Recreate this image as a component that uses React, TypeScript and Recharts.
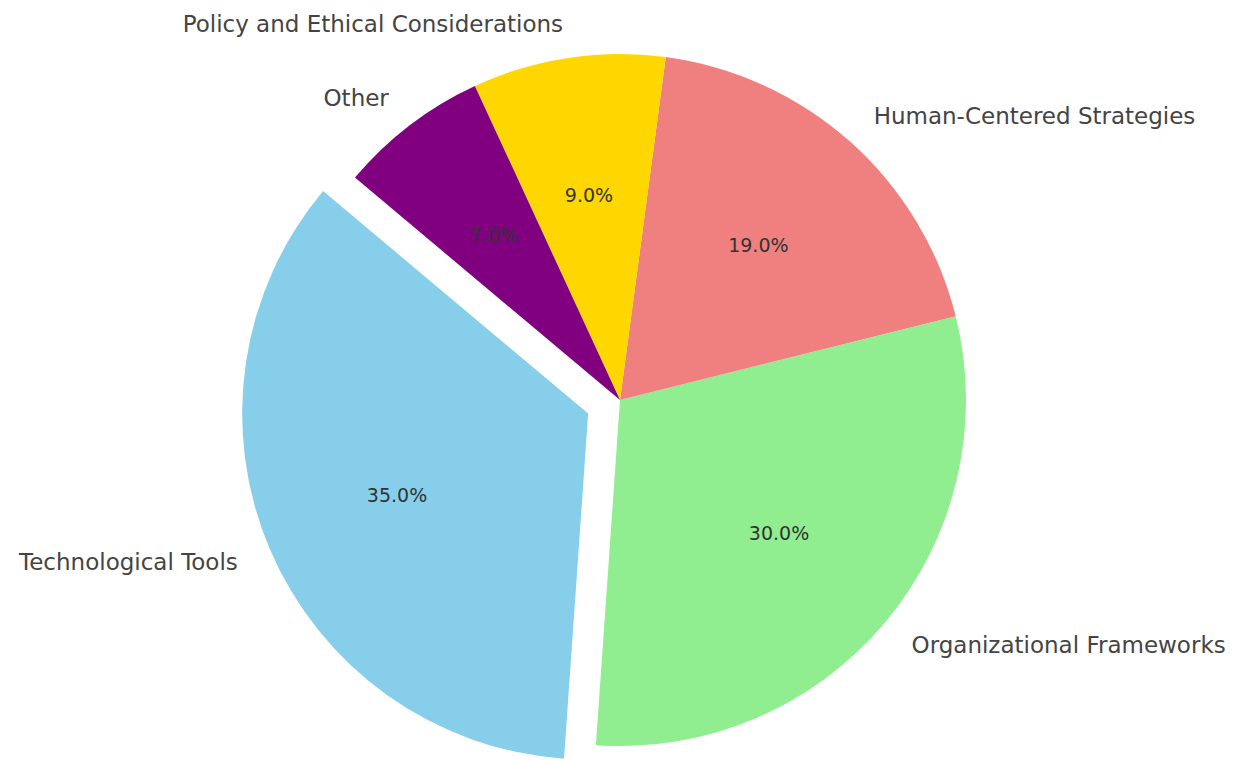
import React from 'react';
import { PieChart, Pie, Cell } from 'recharts';

// slice order follows the original (counter-clockwise from 140deg)
const categories = [
  'Technological Tools',
  'Organizational Frameworks',
  'Human-Centered Strategies',
  'Policy and Ethical Considerations',
  'Other',
];
const shares = [35, 30, 19, 9, 7];

const sliceColors = ['#87CEEB', '#90EE90', '#F08080', '#FFD700', '#800080'];

const START_ANGLE = 140;
const CX = 620;
const CY = 400;
const RADIUS = 346;
const EXPLODED = 0; // index of the pulled-out slice
const EXPLODE_FRAC = 0.1;
const RADIAN = Math.PI / 180;

const data = categories.map((name, i) => ({ name, value: shares[i] }));

const total = shares.reduce((a, b) => a + b, 0);
const before = shares.slice(0, EXPLODED).reduce((a, b) => a + b, 0);
const explodeMid = START_ANGLE + (360 * (before + shares[EXPLODED] / 2)) / total;
const offX = RADIUS * EXPLODE_FRAC * Math.cos(explodeMid * RADIAN);
const offY = -RADIUS * EXPLODE_FRAC * Math.sin(explodeMid * RADIAN);

const makeLabel = (showExploded: boolean) => (props: any) => {
  const { cx, cy, midAngle, outerRadius, percent, index, name } = props;
  if ((index === EXPLODED) !== showExploded) return null;
  const cos = Math.cos(-midAngle * RADIAN);
  const sin = Math.sin(-midAngle * RADIAN);
  const lx = cx + outerRadius * 1.1 * cos;
  const ly = cy + outerRadius * 1.1 * sin;
  const px = cx + outerRadius * 0.6 * cos;
  const py = cy + outerRadius * 0.6 * sin;
  return (
    <g>
      <text
        x={lx}
        y={ly}
        fill="#444"
        fontSize={23}
        fontFamily="DejaVu Sans"
        textAnchor={cos >= 0 ? 'start' : 'end'}
        dominantBaseline="central"
      >
        {name}
      </text>
      <text
        x={px}
        y={py}
        fill="#333"
        fontSize={19}
        fontFamily="DejaVu Sans"
        textAnchor="middle"
        dominantBaseline="central"
      >
        {`${(percent * 100).toFixed(1)}%`}
      </text>
    </g>
  );
};

export default function App() {
  return (
    <div style={{ position: 'absolute', left: 0, top: 0, width: 1240, height: 761, background: '#fff' }}>
      <PieChart width={1240} height={761} margin={{ top: 0, right: 0, bottom: 0, left: 0 }}>
        <Pie
          data={data}
          dataKey="value"
          nameKey="name"
          cx={CX}
          cy={CY}
          outerRadius={RADIUS}
          startAngle={START_ANGLE}
          endAngle={START_ANGLE + 360}
          stroke="none"
          labelLine={false}
          label={makeLabel(false)}
          isAnimationActive={false}
        >
          {data.map((d, i) => (
            <Cell key={d.name} fill={i === EXPLODED ? 'none' : sliceColors[i]} stroke="none" />
          ))}
        </Pie>
        <Pie
          data={data}
          dataKey="value"
          nameKey="name"
          cx={CX + offX}
          cy={CY + offY}
          outerRadius={RADIUS}
          startAngle={START_ANGLE}
          endAngle={START_ANGLE + 360}
          stroke="none"
          labelLine={false}
          label={makeLabel(true)}
          isAnimationActive={false}
        >
          {data.map((d, i) => (
            <Cell key={d.name} fill={i === EXPLODED ? sliceColors[i] : 'none'} stroke="none" />
          ))}
        </Pie>
      </PieChart>
    </div>
  );
}
